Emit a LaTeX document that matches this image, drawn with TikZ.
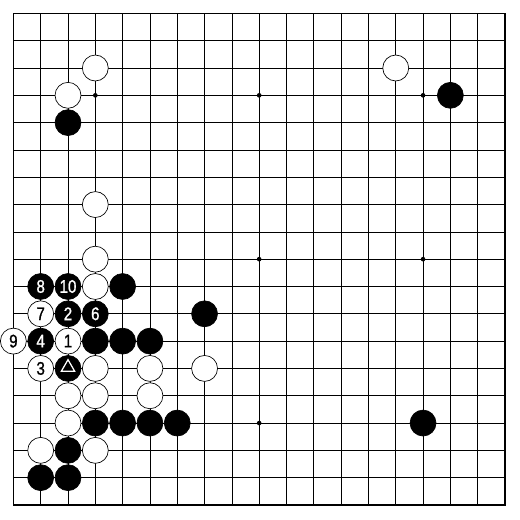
\documentclass[tikz,border=0pt]{standalone}
\usepackage{fontspec}
\newfontfamily\stonefont[FakeStretch=0.83,FakeBold=1]{Liberation Sans}
\newcommand\stonenum{\stonefont\fontsize{19pt}{19pt}\selectfont}
\usetikzlibrary{shapes.geometric}

\begin{document}
\begin{tikzpicture}[x=1cm,y=-1cm,
    bstone/.style={draw,circle,fill=black,minimum size=0.95cm,inner sep=0pt,line width=0.7pt,
        text=white,font=\stonenum},
    wstone/.style={bstone,fill=white,text=black}]
    \useasboundingbox (-0.49,-0.49) rectangle (18.55,18.55);

    \foreach \i in {0,...,18} {
        \draw[line width=0.7pt] (\i,0) -- (\i,18);
        \draw[line width=0.7pt] (0,\i) -- (18,\i);
    }
    \draw[line width=1.8pt] (0,0) rectangle (18,18);
    \foreach \x in {3,9,15}
        \foreach \y in {3,9,15}
            \fill (\x,\y) circle (0.085);

    \foreach \c/\r in {3/2,2/3,14/2,3/7,3/9,3/10,3/13,5/13,7/13,2/14,3/14,5/14,2/15,1/16,3/16}
        \node[wstone] (w\c-\r) at (\c,\r) {};
    \foreach \c/\r in {2/4,16/3,4/10,7/11,3/12,4/12,5/12,3/15,4/15,5/15,6/15,15/15,2/16,1/17,2/17}
        \node[bstone] (b\c-\r) at (\c,\r) {};

    \foreach \c/\r/\n in {2/12/1,1/13/3,1/11/7,0/12/9}
        \node[wstone] (m\n) at (\c,\r) {\n};
    \foreach \c/\r/\n in {2/11/2,1/12/4,3/11/6,1/10/8,2/10/10}
        \node[bstone] (m\n) at (\c,\r) {\n};

    \node[bstone] (tri) at (2,13) {};
    \node[draw=white,line width=1.3pt,regular polygon,regular polygon sides=3,
        minimum size=0.56cm,inner sep=0pt,yshift=0.04cm] (mark) at (tri) {};
\end{tikzpicture}
\end{document}
